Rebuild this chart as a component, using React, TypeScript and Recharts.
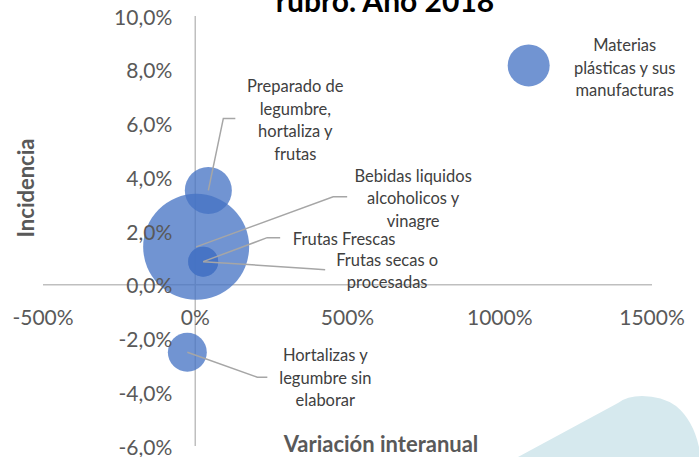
import { ScatterChart, Scatter, XAxis, YAxis, ZAxis, ReferenceLine } from "recharts";

// rubros, variación interanual (%), incidencia (%), peso (tamaño de burbuja)
const rubros = [
  "Materias plásticas y sus manufacturas",
  "Preparado de legumbre, hortaliza y frutas",
  "Bebidas liquidos alcoholicos y vinagre",
  "Frutas Frescas",
  "Frutas secas o procesadas",
  "Hortalizas y legumbre sin elaborar",
];
const variacion = [1095, 43, 3, 26, 26, -26];
const incidencia = [8.16, 3.51, 1.41, 0.86, 0.86, -2.51];
const peso = [15.7, 19.7, 100, 8, 8, 13.5];

const etiquetas = [
  ["Materias", "plásticas y sus", "manufacturas"],
  ["Preparado de", "legumbre,", "hortaliza y", "frutas"],
  ["Bebidas liquidos", "alcoholicos y", "vinagre"],
  ["Frutas Frescas"],
  ["Frutas secas o", "procesadas"],
  ["Hortalizas y", "legumbre sin", "elaborar"],
];

const xTicks = [-500, 0, 500, 1000, 1500];
const yTicks = [-6, -4, -2, 0, 2, 4, 6, 8, 10];

const data = rubros.map((name, i) => ({
  name,
  x: variacion[i],
  y: incidencia[i],
  z: peso[i],
  lines: etiquetas[i],
}));
const xTickData = xTicks.map((v) => ({ x: v, y: 0 }));
const yTickData = yTicks.map((v) => ({ x: 0, y: v }));

// label placement relative to bubble center (dx, dy of first line; leader points)
const labelLayout: Record<string, { dx: number; dy: number; leader?: number[][] }> = {
  "Materias plásticas y sus manufacturas": { dx: 96, dy: -20 },
  "Preparado de legumbre, hortaliza y frutas": { dx: 87, dy: -104, leader: [[15, -72], [27, -72]] },
  "Bebidas liquidos alcoholicos y vinagre": { dx: 217, dy: -71, leader: [[137, -50], [151, -50]] },
  "Frutas Frescas": { dx: 141, dy: -23, leader: [[64, -24], [77, -24]] },
  "Frutas secas o procesadas": { dx: 184, dy: -2, leader: [[108, 7], [122, 8]] },
  "Hortalizas y legumbre sin elaborar": { dx: 138, dy: 3, leader: [[70, 25], [80, 25]] },
};

const FONT = "Lato, 'Open Sans', sans-serif";
const BLUE = "#4472C4";
const AXIS = "#bfbfbf";

const Bubble = (props: any) => (
  <circle cx={props.cx} cy={props.cy} r={props.width / 2} fill={BLUE} fillOpacity={0.76} />
);

const BubbleLabel = (props: any) => {
  const { cx, cy, payload } = props;
  const l = labelLayout[payload.name];
  const pts = l.leader ? [[0, 0], ...l.leader].map(([a, b]) => `${cx + a},${cy + b}`).join(" ") : null;
  return (
    <g>
      {pts && <polyline points={pts} fill="none" stroke="#a6a6a6" strokeWidth={1.5} />}
      {payload.lines.map((t: string, i: number) => (
        <text
          key={i}
          x={cx + l.dx}
          y={cy + l.dy + i * 22.5}
          textAnchor="middle"
          dominantBaseline="central"
          fontFamily={FONT}
          fontSize={16.5}
          fill="#404040"
        >
          {t}
        </text>
      ))}
    </g>
  );
};

const XTick = (props: any) => (
  <text x={props.cx} y={props.cy + 32} textAnchor="middle" dominantBaseline="central" fontFamily={FONT} fontSize={21} fill="#595959">
    {`${props.payload.x}%`}
  </text>
);

const YTick = (props: any) => (
  <text x={props.cx - 23} y={props.cy} textAnchor="end" dominantBaseline="central" fontFamily={FONT} fontSize={21} fill="#595959">
    {`${props.payload.y.toFixed(1).replace(".", ",")}%`}
  </text>
);

export default function App() {
  return (
    <div style={{ position: "absolute", left: 0, top: 0, width: 699, height: 457, background: "#fff", overflow: "hidden" }}>
      <svg width={699} height={457} style={{ position: "absolute", left: 0, top: 0 }}>
        <path d="M518,457 L618,403 Q627,396 642,396 Q662,396 676,406 Q693,420 699,447 L699,457 Z" fill="#d6e9ee" />
      </svg>
      <div style={{ position: "absolute", left: 0, top: 0 }}>
        <ScatterChart width={699} height={457} margin={{ top: 16, right: 47, bottom: 11, left: 43 }}>
          <XAxis type="number" dataKey="x" domain={[-500, 1500]} hide />
          <YAxis type="number" dataKey="y" domain={[-6, 10]} hide />
          <ZAxis type="number" dataKey="z" domain={[0, 100]} range={[0, 8825]} />
          <ReferenceLine x={0} stroke={AXIS} strokeWidth={1.5} />
          <ReferenceLine y={0} stroke={AXIS} strokeWidth={1.5} />
          <Scatter data={data} shape={Bubble} isAnimationActive={false} />
          <Scatter data={data} shape={BubbleLabel} isAnimationActive={false} />
          <Scatter data={xTickData} shape={XTick} isAnimationActive={false} />
          <Scatter data={yTickData} shape={YTick} isAnimationActive={false} />
        </ScatterChart>
      </div>
      <svg width={699} height={457} style={{ position: "absolute", left: 0, top: 0, pointerEvents: "none" }}>
        <text x={385} y={12} textAnchor="middle" fontFamily={FONT} fontWeight="bold" fontSize={30} fill="#000">
          rubro. Año 2018
        </text>
        <text x={381} y={443} textAnchor="middle" dominantBaseline="central" fontFamily={FONT} fontWeight="bold" fontSize={22} fill="#595959">
          Variación interanual
        </text>
        <text
          transform="translate(25,188) rotate(-90)"
          textAnchor="middle"
          dominantBaseline="central"
          fontFamily={FONT}
          fontWeight="bold"
          fontSize={22}
          fill="#595959"
        >
          Incidencia
        </text>
      </svg>
    </div>
  );
}
